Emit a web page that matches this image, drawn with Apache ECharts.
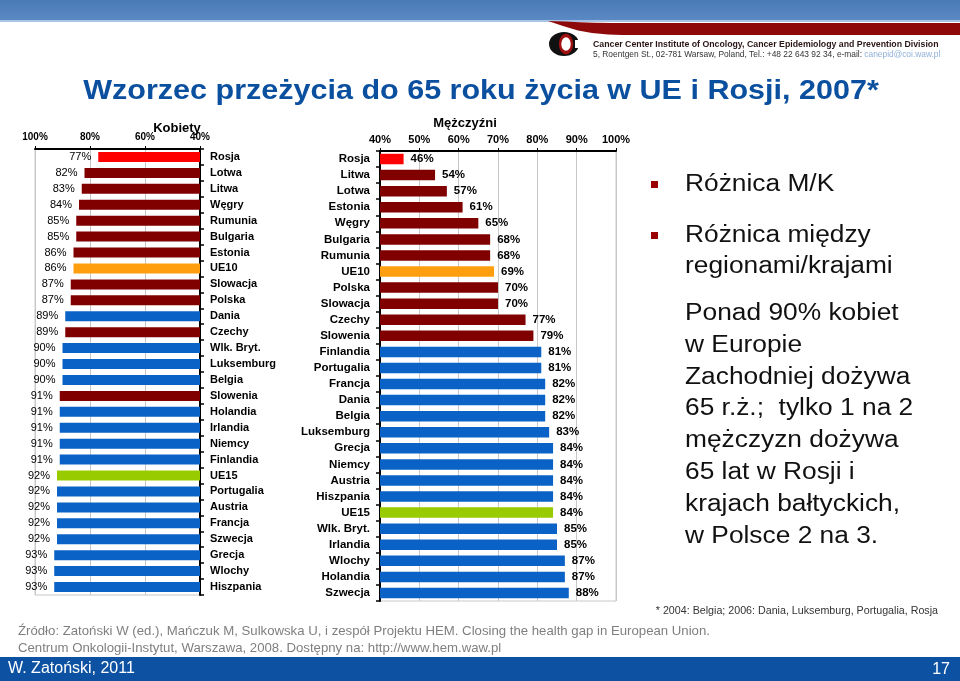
<!DOCTYPE html>
<html>
<head>
<meta charset="utf-8">
<script src="https://cdn.jsdelivr.net/npm/echarts@6/dist/echarts.min.js"></script>
<style>
html,body{margin:0;padding:0;background:#fff;}
#c{width:960px;height:681px;}
</style>
</head>
<body>
<div id="c"></div>
<script>
// ---------- DATA ----------
const femaleCategories = ['Rosja','Lotwa','Litwa','Węgry','Rumunia','Bulgaria','Estonia','UE10','Slowacja','Polska','Dania','Czechy','Wlk. Bryt.','Luksemburg','Belgia','Slowenia','Holandia','Irlandia','Niemcy','Finlandia','UE15','Portugalia','Austria','Francja','Szwecja','Grecja','Wlochy','Hiszpania'];
const femaleValues = [77,82,83,84,85,85,86,86,87,87,89,89,90,90,90,91,91,91,91,91,92,92,92,92,92,93,93,93];
const femaleGroups = ['RU','E','E','E','E','E','E','UE10','E','E','W','E','W','W','W','E','W','W','W','W','UE15','W','W','W','W','W','W','W'];

const maleCategories = ['Rosja','Litwa','Lotwa','Estonia','Węgry','Bulgaria','Rumunia','UE10','Polska','Slowacja','Czechy','Slowenia','Finlandia','Portugalia','Francja','Dania','Belgia','Luksemburg','Grecja','Niemcy','Austria','Hiszpania','UE15','Wlk. Bryt.','Irlandia','Wlochy','Holandia','Szwecja'];
const maleValues = [46,54,57,61,65,68,68,69,70,70,77,79,81,81,82,82,82,83,84,84,84,84,84,85,85,87,87,88];
const maleGroups = ['RU','E','E','E','E','E','E','UE10','E','E','E','E','W','W','W','W','W','W','W','W','W','W','UE15','W','W','W','W','W'];

const femaleAxisTitle = 'Kobiety';
const maleAxisTitle = 'Mężczyźni';
const slideTitle = 'Wzorzec przeżycia do 65 roku życia w UE i Rosji, 2007*';
const bulletLines = ['Różnica M/K', 'Różnica między'];
const bodyLines = ['regionami/krajami','Ponad 90% kobiet','w Europie','Zachodniej dożywa','65 r.ż.;  tylko 1 na 2','mężczyzn dożywa','65 lat w Rosji i','krajach bałtyckich,','w Polsce 2 na 3.'];
const footnote = '* 2004: Belgia; 2006: Dania, Luksemburg, Portugalia, Rosja';
const sourceLines = ['Źródło: Zatoński W (ed.), Mańczuk M, Sulkowska U, i zespół Projektu HEM. Closing the health gap in European Union.','Centrum Onkologii-Instytut, Warszawa, 2008. Dostępny na: http://www.hem.waw.pl'];
const footerLeft = 'W. Zatoński, 2011';
const footerRight = '17';
const logoLine1 = 'Cancer Center Institute of Oncology, Cancer Epidemiology and Prevention Division';
const logoLine2a = '5, Roentgen St., 02-781 Warsaw, Poland, Tel.: +48 22 643 92 34, e-mail: ';
const logoLine2b = 'canepid@coi.waw.pl';

// ---------- STYLE ----------
const groupColors = {RU:'#FF0000', E:'#800000', UE10:'#FF9F10', W:'#0A62C6', UE15:'#99CC00'};
const FONT = 'Liberation Sans, Arial, sans-serif';

function barData(vals, groups){
  return vals.map((v,i)=>({value:v, itemStyle:{color:groupColors[groups[i]]}}));
}

const chart = echarts.init(document.getElementById('c'), null, {renderer:'canvas'});

const axisLineBlack = {show:true, lineStyle:{color:'#000', width:2}};

const graphics = [];
// top band
graphics.push({type:'rect', shape:{x:0,y:0,width:960,height:20}, style:{fill:new echarts.graphic.LinearGradient(0,0,0,1,[{offset:0,color:'#4A7AB6'},{offset:1,color:'#5A89C4'}])}, z:1});
graphics.push({type:'rect', shape:{x:0,y:20,width:960,height:2}, style:{fill:'#A9C4E4'}, z:1});
// red swoosh
graphics.push({type:'polygon', shape:{points:[[548,21],[565,21.6],[580,22.3],[595,22.8],[612,23],[960,23],[960,35],[622,35],[608,34.5],[592,33],[578,30.5],[563,26],[548,21]]}, style:{fill:'#8E0A0A'}, z:1});
// logo
graphics.push({type:'circle', x:564, y:44, scaleX:1.25, shape:{cx:0,cy:0,r:12}, style:{fill:'#111'}, z:2});
graphics.push({type:'rect', shape:{x:575,y:40,width:12,height:8}, style:{fill:'#fff'}, z:3});
graphics.push({type:'circle', x:566, y:44, scaleX:0.7, shape:{cx:0,cy:0,r:8.5}, style:{fill:'#fff', stroke:'#A01010', lineWidth:3.5}, z:4});
graphics.push({type:'text', x:593, y:45, style:{text:logoLine1, fontFamily:FONT, fontSize:8.75, fontWeight:'bold', fill:'#2a1515', verticalAlign:'middle'}, z:2});
graphics.push({type:'text', x:593, y:55, style:{text:'{a|'+logoLine2a+'}{b|'+logoLine2b+'}', fontFamily:FONT, fontSize:8.4, verticalAlign:'middle', rich:{a:{fontFamily:FONT,fontSize:8.4,fill:'#333'}, b:{fontFamily:FONT,fontSize:8.4,fill:'#8FB0D8'}}}, z:2});
// title
graphics.push({type:'text', x:481, y:91, scaleX:1.09, style:{text:slideTitle, fontFamily:FONT, fontSize:28, fontWeight:'bold', fill:'#0B4F9F', align:'center', verticalAlign:'middle'}, z:2});
// axis titles
graphics.push({type:'text', x:177, y:128, style:{text:femaleAxisTitle, fontFamily:FONT, fontSize:13, fontWeight:'bold', fill:'#000', align:'center', verticalAlign:'middle'}, z:2});
graphics.push({type:'text', x:465, y:123, style:{text:maleAxisTitle, fontFamily:FONT, fontSize:13, fontWeight:'bold', fill:'#000', align:'center', verticalAlign:'middle'}, z:2});
// right text
const bulletY = [185, 236];
bulletLines.forEach((t,i)=>{
  graphics.push({type:'rect', shape:{x:651,y:bulletY[i]-4,width:7,height:7}, style:{fill:'#9A0000'}, z:2});
  graphics.push({type:'text', x:685, y:bulletY[i], scaleX:1.12, style:{text:t, fontFamily:FONT, fontSize:23.5, fill:'#111', verticalAlign:'middle'}, z:2});
});
const bodyY = [267, 314, 346, 378, 409, 441, 473, 505, 537];
bodyLines.forEach((t,i)=>{
  graphics.push({type:'text', x:685, y:bodyY[i], scaleX:1.12, style:{text:t, fontFamily:FONT, fontSize:23.5, fill:'#111', verticalAlign:'middle'}, z:2});
});
// footnote + source
graphics.push({type:'text', x:938, y:611, style:{text:footnote, fontFamily:FONT, fontSize:10.7, fill:'#333', align:'right', verticalAlign:'middle'}, z:2});
graphics.push({type:'text', x:18, y:631, style:{text:sourceLines[0], fontFamily:FONT, fontSize:13.2, fill:'#7F7F7F', verticalAlign:'middle'}, z:2});
graphics.push({type:'text', x:18, y:648, style:{text:sourceLines[1], fontFamily:FONT, fontSize:13.2, fill:'#7F7F7F', verticalAlign:'middle'}, z:2});
// bottom band
graphics.push({type:'rect', shape:{x:0,y:657,width:960,height:24}, style:{fill:'#0D52A2'}, z:1});
graphics.push({type:'text', x:8, y:669, style:{text:footerLeft, fontFamily:FONT, fontSize:16, fill:'#fff', verticalAlign:'middle'}, z:2});
graphics.push({type:'text', x:950, y:670, style:{text:footerRight, fontFamily:FONT, fontSize:16, fill:'#fff', align:'right', verticalAlign:'middle'}, z:2});

const option = {
  animation:false,
  backgroundColor:'#fff',
  textStyle:{fontFamily:FONT},
  grid:[
    {left:35, top:149, width:165, height:446, show:true, borderColor:'#c8c8c8', borderWidth:1, backgroundColor:'transparent'},
    {left:380, top:151, width:236, height:450, show:true, borderColor:'#c8c8c8', borderWidth:1, backgroundColor:'transparent'}
  ],
  xAxis:[
    {gridIndex:0, type:'value', min:40, max:100, interval:20, inverse:true, position:'top',
      axisLine:axisLineBlack, axisTick:{show:true, length:3, lineStyle:{color:'#000'}},
      axisLabel:{formatter:'{value}%', fontFamily:FONT, fontWeight:'bold', fontSize:10, color:'#000', margin:7},
      splitLine:{show:true, lineStyle:{color:'#c8c8c8', width:1}}},
    {gridIndex:1, type:'value', min:40, max:100, interval:10, position:'top',
      axisLine:axisLineBlack, axisTick:{show:true, length:3, lineStyle:{color:'#000'}},
      axisLabel:{formatter:'{value}%', fontFamily:FONT, fontWeight:'bold', fontSize:11, color:'#000', margin:6},
      splitLine:{show:true, lineStyle:{color:'#c8c8c8', width:1}}}
  ],
  yAxis:[
    {gridIndex:0, type:'category', data:femaleCategories, inverse:true, position:'right',
      axisLine:axisLineBlack, axisTick:{show:true, length:4, lineStyle:{color:'#000', width:1.5}},
      axisLabel:{fontFamily:FONT, fontWeight:'bold', fontSize:11, color:'#000', margin:10},
      splitLine:{show:false}},
    {gridIndex:1, type:'category', data:maleCategories, inverse:true, position:'left',
      axisLine:axisLineBlack, axisTick:{show:true, length:4, lineStyle:{color:'#000', width:1.5}},
      axisLabel:{fontFamily:FONT, fontWeight:'bold', fontSize:11.5, color:'#000', margin:10},
      splitLine:{show:false}}
  ],
  series:[
    {type:'bar', xAxisIndex:0, yAxisIndex:0, data:barData(femaleValues, femaleGroups), barWidth:10, clip:true,
      label:{show:true, position:'left', distance:7, formatter:'{c}%', fontFamily:FONT, fontSize:11, color:'#000'}},
    {type:'bar', xAxisIndex:1, yAxisIndex:1, data:barData(maleValues, maleGroups), barWidth:10.5, clip:true,
      label:{show:true, position:'right', distance:7, formatter:'{c}%', fontFamily:FONT, fontWeight:'bold', fontSize:11.5, color:'#000'}}
  ],
  graphic:{elements:graphics}
};
chart.setOption(option);
</script>
</body>
</html>
